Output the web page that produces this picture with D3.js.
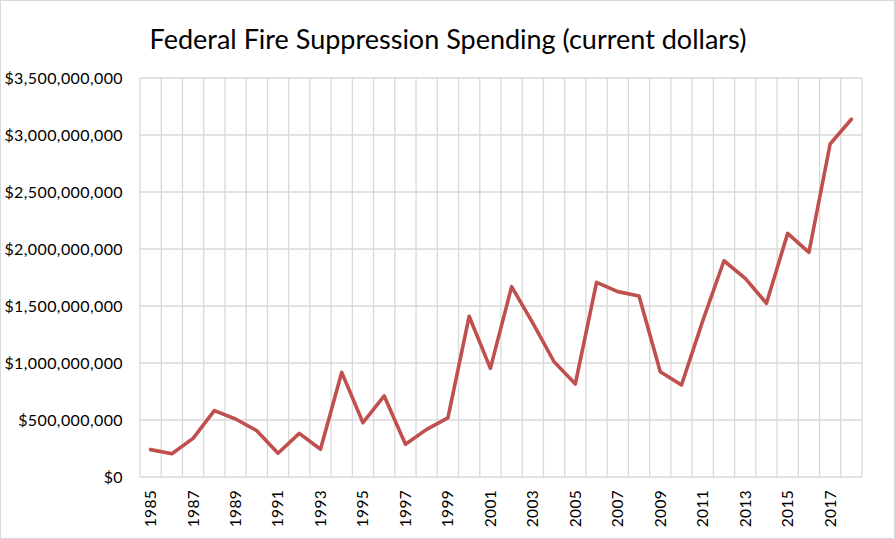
<!DOCTYPE html>
<meta charset="utf-8">
<style>
    body { margin: 0; background: #fff; }
    text { font-family: Lato, "Liberation Sans", sans-serif; fill: #000; }
    .title { font-size: 27px; }
    .axis text { font-size: 16px; letter-spacing: 0.4px; }
    .xaxis text { font-size: 15.5px; letter-spacing: 0.3px; }
    .grid line { stroke: #d9d9d9; stroke-width: 1.3; }
</style>
<svg width="895" height="539"></svg>
<script src="https://cdn.jsdelivr.net/npm/d3@7"></script>
<script>

    // years 1985 .. 2018
    var years = [1985, 1986, 1987, 1988, 1989, 1990, 1991, 1992, 1993, 1994,
                 1995, 1996, 1997, 1998, 1999, 2000, 2001, 2002, 2003, 2004,
                 2005, 2006, 2007, 2008, 2009, 2010, 2011, 2012, 2013, 2014,
                 2015, 2016, 2017, 2018];

    // spending, current dollars
    var spending = [240e6, 204e6, 339e6, 582e6, 509e6, 406e6, 208e6, 383e6, 243e6, 918e6,
                    476e6, 711e6, 287e6, 418e6, 518e6, 1410e6, 953e6, 1670e6, 1350e6, 1011e6,
                    816e6, 1708e6, 1626e6, 1588e6, 924e6, 807e6, 1370e6, 1897e6, 1743e6, 1524e6,
                    2137e6, 1971e6, 2921e6, 3138e6];

    var yTicks = [0, 500e6, 1000e6, 1500e6, 2000e6, 2500e6, 3000e6, 3500e6];

    var svg = d3.select("svg"),
        width = +svg.attr("width"),
        height = +svg.attr("height"),
        margin = {top: 78, right: 33, bottom: 62, left: 140};

    var w = width - margin.left - margin.right,
        h = height - margin.top - margin.bottom;

    // chart frame
    svg.append("rect")
        .attr("x", 0.5).attr("y", 0.5)
        .attr("width", width - 1).attr("height", height - 1)
        .attr("fill", "none").attr("stroke", "#d9d9d9");

    svg.append("text")
        .attr("class", "title")
        .attr("x", 448)
        .attr("y", 49)
        .attr("text-anchor", "middle")
        .text("Federal Fire Suppression Spending (current dollars)");

    var g = svg.append("g").attr("transform", "translate(" + margin.left + "," + margin.top + ")");

    var x = d3.scaleBand().domain(years).range([0, w]);
    var y = d3.scaleLinear().domain([0, 3500e6]).range([h, 0]);

    // vertical gridlines on category boundaries
    var bounds = years.map(function(d) { return x(d); }).concat([w]);
    g.append("g").attr("class", "grid")
        .selectAll("line.v")
        .data(bounds)
        .enter().append("line")
        .attr("x1", function(d) { return d; })
        .attr("x2", function(d) { return d; })
        .attr("y1", 0).attr("y2", h);

    // horizontal gridlines
    g.append("g").attr("class", "grid")
        .selectAll("line.h")
        .data(yTicks)
        .enter().append("line")
        .attr("x1", 0).attr("x2", w)
        .attr("y1", function(d) { return y(d); })
        .attr("y2", function(d) { return y(d); });

    var fmt = d3.format("$,.0f");
    var yAxis = g.append("g").attr("class", "axis")
        .attr("transform", "translate(-17,0)")
        .call(d3.axisLeft(y).tickValues(yTicks).tickSize(0).tickPadding(0).tickFormat(fmt));
    yAxis.select(".domain").remove();
    yAxis.selectAll("text").attr("dy", "0.35em");

    var xAxis = g.append("g").attr("class", "axis xaxis")
        .attr("transform", "translate(0," + h + ")")
        .call(d3.axisBottom(x)
            .tickValues(years.filter(function(d) { return d % 2 === 1; }))
            .tickSize(0).tickPadding(0));
    xAxis.select(".domain").remove();
    xAxis.selectAll("text")
        .attr("transform", "translate(0,13) rotate(-90)")
        .attr("y", 0)
        .attr("x", 0)
        .attr("dy", "0.35em")
        .attr("text-anchor", "end");

    var line = d3.line()
        .x(function(d, i) { return x(years[i]) + x.bandwidth() / 2; })
        .y(function(d) { return y(d); });

    g.append("path")
        .datum(spending)
        .attr("fill", "none")
        .attr("stroke", "#c0504d")
        .attr("stroke-width", 3.6)
        .attr("stroke-linejoin", "round")
        .attr("stroke-linecap", "round")
        .attr("d", line);

</script>
